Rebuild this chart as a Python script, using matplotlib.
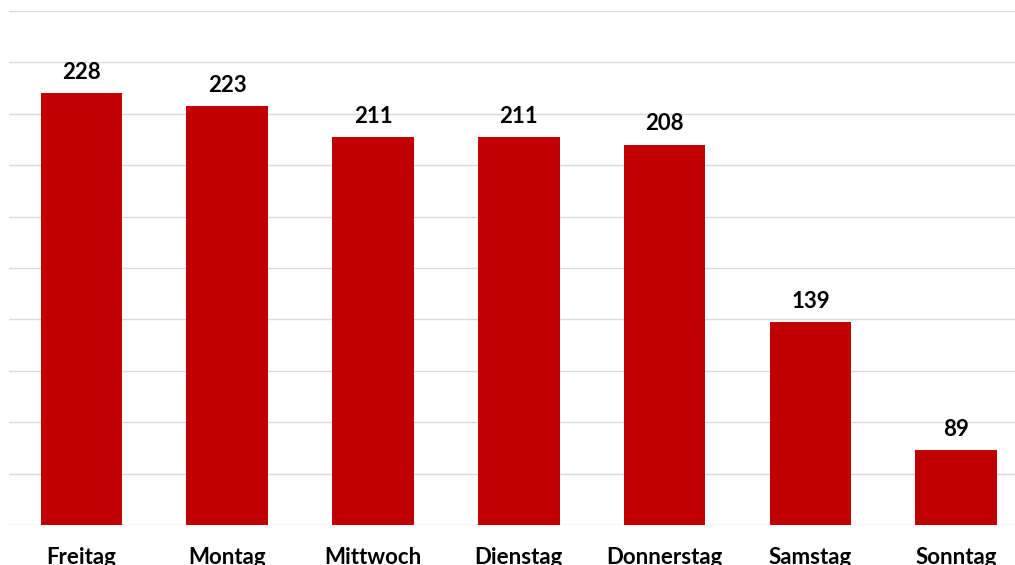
import matplotlib.pyplot as plt

tage = ["Freitag", "Montag", "Mittwoch", "Dienstag", "Donnerstag", "Samstag", "Sonntag"]
anzahl = [228, 223, 211, 211, 208, 139, 89]

plt.rcParams["font.family"] = ["Lato", "DejaVu Sans"]

fig = plt.figure(figsize=(10.15, 5.65), dpi=100)
ax = fig.add_axes([0.0085, 0.0708, 1.0053, 0.9097])

bars = ax.bar(range(len(tage)), anzahl, width=0.56, color="#C00000", zorder=2)
ax.bar_label(bars, padding=7.5, fontsize=16, fontweight="bold", color="#000000")

ax.set_xlim(-0.5, len(tage) - 0.5)
ax.set_ylim(60, 260)
ax.set_yticks(range(60, 261, 20))
ax.set_yticklabels([])
ax.tick_params(axis="y", length=0)
ax.grid(axis="y", color="#d9d9d9", linewidth=1.0, zorder=0)
ax.set_axisbelow(True)

ax.set_xticks(range(len(tage)))
ax.set_xticklabels(tage, fontsize=16, fontweight="bold")
ax.tick_params(axis="x", length=0, pad=16)

for s in ax.spines.values():
    s.set_visible(False)

fig.savefig("out.png", dpi=100)
